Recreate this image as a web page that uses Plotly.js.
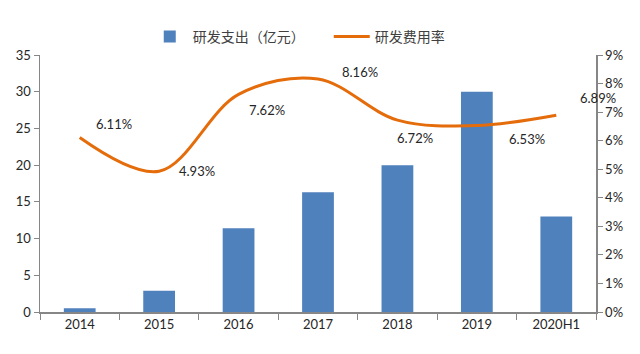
<!DOCTYPE html>
<html>
<head>
<meta charset="utf-8">
<script src="https://cdn.plot.ly/plotly-3.0.1.min.js"></script>
<style>html,body{margin:0;padding:0;background:#fff;}#chart{width:640px;height:354px;}</style>
</head>
<body>
<div id="chart"></div>
<script>
var categories = ['2014', '2015', '2016', '2017', '2018', '2019', '2020H1'];
var rdSpend = [0.5, 2.9, 11.4, 16.3, 20.0, 30.0, 13.0];
var rdRate = [0.0611, 0.0493, 0.0762, 0.0816, 0.0672, 0.0653, 0.0689];
var rateLabels = ['6.11%', '4.93%', '7.62%', '8.16%', '6.72%', '6.53%', '6.89%'];
var leftTicks = [0, 5, 10, 15, 20, 25, 30, 35];
var rightTicks = [0, 0.01, 0.02, 0.03, 0.04, 0.05, 0.06, 0.07, 0.08, 0.09];

var labelShift = [[34, 14], [38, 0], [28, -16], [42, 7], [18, -18], [50, -13], [42, 17]];

var tickFont = {family: 'Lato, "Liberation Sans", sans-serif', size: 13, color: '#262626'};
var axisColor = '#868686';

var traces = [
  {
    type: 'bar', x: categories, y: rdSpend, name: '研发支出（亿元）',
    marker: {color: '#4F81BD'}, width: 0.4, yaxis: 'y', hoverinfo: 'skip'
  },
  {
    type: 'scatter', mode: 'lines', x: categories, y: rdRate, name: '研发费用率',
    line: {color: '#E46C0A', width: 3, shape: 'spline', smoothing: 1}, yaxis: 'y2', hoverinfo: 'skip'
  }
];

var annotations = categories.map(function (c, i) {
  return {
    x: i, y: rdRate[i], xref: 'x', yref: 'y2', text: rateLabels[i], showarrow: false,
    xshift: labelShift[i][0], yshift: labelShift[i][1],
    font: {family: 'Lato, "Liberation Sans", sans-serif', size: 13, color: '#262626'}
  };
});

var layout = {
  width: 640, height: 354,
  margin: {l: 40, r: 44, t: 55, b: 42},
  paper_bgcolor: '#fff', plot_bgcolor: '#fff',
  showlegend: true,
  legend: {
    orientation: 'h', x: 0.192, xanchor: 'left', y: 1.07, yanchor: 'middle',
    font: {family: '"Noto Sans CJK SC", sans-serif', size: 14, color: '#404040'},
    entrywidth: 131, itemwidth: 36, bgcolor: 'rgba(0,0,0,0)'
  },
  xaxis: {
    type: 'category', tickfont: tickFont, showline: true, linecolor: axisColor, linewidth: 1.5,
    ticks: 'outside', tickson: 'boundaries', ticklen: 6, tickcolor: axisColor,
    showgrid: false, zeroline: false, fixedrange: true, range: [-0.5, 6.5]
  },
  yaxis: {
    range: [0, 35], tickvals: leftTicks, ticktext: leftTicks.map(String), tickfont: tickFont,
    showline: true, linecolor: axisColor, linewidth: 1.5, ticks: 'outside', ticklen: 5, tickcolor: axisColor,
    showgrid: false, zeroline: false, fixedrange: true
  },
  yaxis2: {
    range: [0, 0.09], overlaying: 'y', side: 'right', tickvals: rightTicks,
    ticktext: rightTicks.map(function (v) { return Math.round(v * 100) + '%'; }), tickfont: tickFont,
    showline: true, linecolor: axisColor, linewidth: 1.5, ticks: 'outside', ticklen: 5, tickcolor: axisColor,
    showgrid: false, zeroline: false, fixedrange: true
  },
  annotations: annotations
};

Plotly.newPlot('chart', traces, layout, {displayModeBar: false, staticPlot: true});
</script>
</body>
</html>
